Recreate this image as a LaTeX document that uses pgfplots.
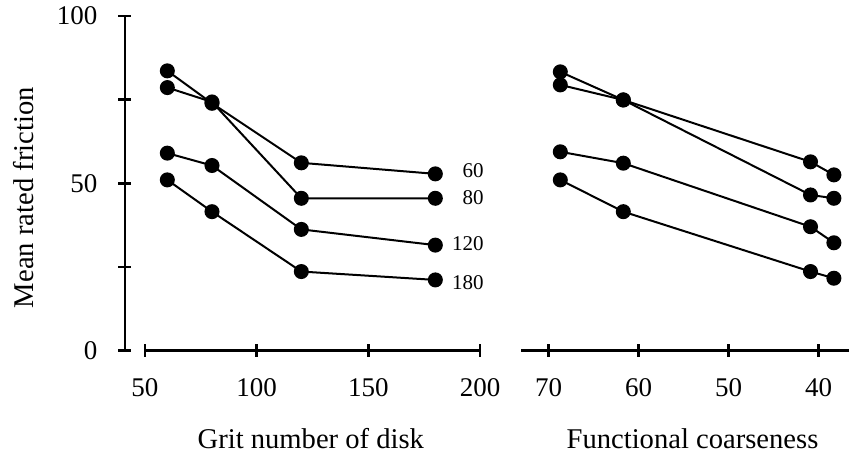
\documentclass[border=0pt]{standalone}
\usepackage{pgfplots}
\pgfplotsset{compat=1.18}
\usepackage{fontspec}
\setmainfont{Liberation Serif}
\begin{document}
\begin{tikzpicture}
\pgfplotsset{
  every axis/.append style={
    scale only axis,
    /pgf/number format/assume math mode=true,
    axis line style={line width=1.35pt},
    major tick style={line width=1.35pt, black},
    minor tick style={line width=1.35pt, black},
    major tick length=6.5pt,
    minor tick length=6.5pt,
    tick align=outside,
    ymin=0, ymax=100,
    ticklabel style={font=\fontsize{13.5pt}{15pt}\selectfont},
    xticklabel style={yshift=-7pt},
    yticklabel style={xshift=-7pt},
    label style={font=\fontsize{14.3pt}{17pt}\selectfont},
  },
  ser/.style={black, line width=1pt, mark=*, mark size=3.25pt, mark options={fill=black}},
}
\path[use as bounding box] (-72.5pt,-54.25pt) rectangle (352.5pt,175.25pt);
% left panel
\begin{axis}[
  at={(0,0)}, anchor=south west,
  width=167.5pt, height=167.25pt,
  xmin=50, xmax=200,
  axis x line=bottom, axis y line=left,
  axis y line shift=10pt,
  axis line style={-},
  xtick={50,100,150,200},
  ytick={0,50,100}, minor ytick={25,75},
  xlabel={Grit number of disk},
  ylabel={Mean rated friction},
  xlabel style={at={(axis description cs:0.495,-0.2915)}, anchor=base},
  ylabel style={at={(axis description cs:-0.334,0.457)}, anchor=base, rotate=0},
  clip=false,
]
\addplot[ser] coordinates {(60,83.6) (80,73.9) (120,56.1) (180,52.8)};
\addplot[ser] coordinates {(60,78.6) (80,74.3) (120,45.5) (180,45.5)};
\addplot[ser] coordinates {(60,59.0) (80,55.3) (120,36.2) (180,31.5)};
\addplot[ser] coordinates {(60,51.0) (80,41.5) (120,23.6) (180,21.1)};
\node[anchor=east, font=\fontsize{10.5pt}{12pt}\selectfont, inner sep=0pt] at (axis cs:201.8,53.7) {60};
\node[anchor=east, font=\fontsize{10.5pt}{12pt}\selectfont, inner sep=0pt] at (axis cs:201.8,45.6) {80};
\node[anchor=east, font=\fontsize{10.5pt}{12pt}\selectfont, inner sep=0pt] at (axis cs:201.8,31.9) {120};
\node[anchor=east, font=\fontsize{10.5pt}{12pt}\selectfont, inner sep=0pt] at (axis cs:201.8,20.2) {180};
\end{axis}
% right panel
\begin{axis}[
  at={(187.85pt,0)}, anchor=south west,
  width=164.25pt, height=167.25pt,
  xmin=36.6, xmax=73.1, x dir=reverse,
  axis x line=bottom, axis y line=none,
  axis line style={-},
  xtick={70,60,50,40},
  xlabel={Functional coarseness},
  xlabel style={at={(axis description cs:0.523,-0.2915)}, anchor=base},
  clip=false,
]
\addplot[ser] coordinates {(68.7,83.3) (61.7,74.9) (40.9,56.4) (38.3,52.5)};
\addplot[ser] coordinates {(68.7,79.4) (61.7,74.9) (40.9,46.5) (38.3,45.5)};
\addplot[ser] coordinates {(68.7,59.4) (61.7,56.0) (40.9,37.0) (38.3,32.2)};
\addplot[ser] coordinates {(68.7,51.0) (61.7,41.5) (40.9,23.6) (38.3,21.6)};
\end{axis}
\end{tikzpicture}
\end{document}
